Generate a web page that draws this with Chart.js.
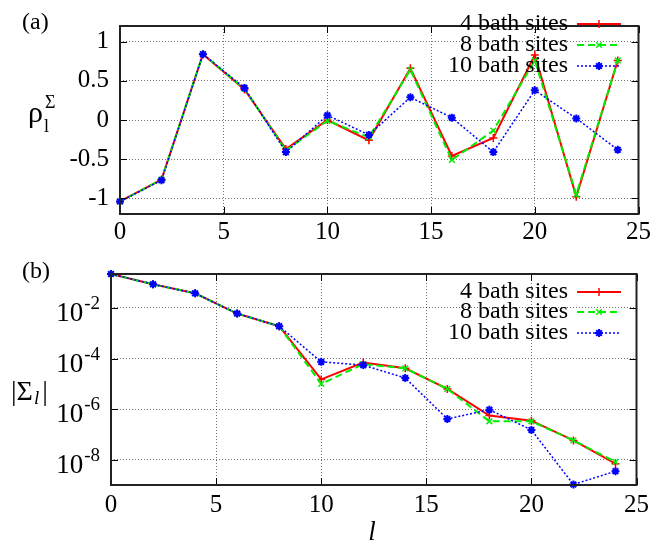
<!DOCTYPE html>
<html>
<head>
<meta charset="utf-8">
<script src="https://cdn.jsdelivr.net/npm/chart.js@4/dist/chart.umd.min.js"></script>
<style>
body { margin: 0; background: #fff; }
#wrap { position: relative; width: 654px; height: 544px; }
canvas { position: absolute; left: 0; }
#top { top: 0; }
#bottom { top: 245px; }
</style>
</head>
<body>
<div id="wrap">
<canvas id="top" width="654" height="245"></canvas>
<canvas id="bottom" width="654" height="299"></canvas>
</div>
<script>
// data
let sites = [0, 2, 4, 6, 8, 10, 12, 14, 16, 18, 20, 22, 24];
let seriesNames = ['4 bath sites', '8 bath sites', '10 bath sites'];

let rho4 = [-1.04, -0.76, 0.84, 0.39, -0.37, 0.0, -0.26, 0.66, -0.46, -0.23, 0.83, -0.98, 0.76];
let rho8 = [-1.04, -0.76, 0.84, 0.40, -0.39, -0.01, -0.22, 0.64, -0.51, -0.135, 0.76, -0.95, 0.76];
let rho10 = [-1.04, -0.77, 0.84, 0.41, -0.41, 0.06, -0.19, 0.29, 0.03, -0.41, 0.38, 0.02, -0.38];

let sig4 = [0.22, 0.086, 0.038, 0.006, 0.0019, 1.5e-5, 7e-5, 4.1e-5, 6.3e-6, 5.6e-7, 3.5e-7, 5.8e-8, 7e-9];
let sig8 = [0.22, 0.086, 0.038, 0.006, 0.0019, 1.0e-5, 6e-5, 4.1e-5, 6.3e-6, 3.3e-7, 3.3e-7, 5.8e-8, 8.2e-9];
let sig10 = [0.22, 0.086, 0.038, 0.006, 0.0019, 7.4e-5, 5.5e-5, 1.7e-5, 4.1e-7, 9.5e-7, 1.5e-7, 1.05e-9, 3.5e-9];

let xTicks = [0, 5, 10, 15, 20, 25];
let rhoTicks = [-1, -0.5, 0, 0.5, 1];
let sigTicks = [1e-8, 1e-6, 1e-4, 1e-2];
let sigTickLabels = ['-8', '-6', '-4', '-2'];

const SERIF = '"Liberation Serif", "DejaVu Serif", serif';

let styles = [
    { borderColor: '#ff0000', borderWidth: 2, borderDash: [], pointStyle: 'cross', pointBorderWidth: 1.5 },
    { borderColor: '#00ee00', borderWidth: 2, borderDash: [7, 4], pointStyle: 'crossRot', pointBorderWidth: 1.5 },
    { borderColor: '#0000ff', borderWidth: 1.5, borderDash: [2, 2], pointStyle: 'star', pointBorderWidth: 2 }
];

function makeDatasets(values) {
    return values.map((vals, i) => ({
        label: seriesNames[i],
        data: sites.map((x, k) => ({ x: x, y: vals[k] })),
        borderColor: styles[i].borderColor,
        backgroundColor: styles[i].borderColor,
        borderWidth: styles[i].borderWidth,
        borderDash: styles[i].borderDash,
        pointStyle: styles[i].pointStyle,
        pointRadius: 4,
        pointBorderWidth: styles[i].pointBorderWidth,
        pointHoverRadius: 4,
        tension: 0,
        clip: false,
        order: 3 - i
    }));
}

// frame, inner ticks, legend and axis texts
function decorPlugin(cfg) {
    return {
        id: 'decor',
        afterDatasetsDraw(chart) {
            let ctx = chart.ctx;
            let a = chart.chartArea;
            let xs = chart.scales.x, ys = chart.scales.y;
            ctx.save();
            ctx.strokeStyle = '#000';
            ctx.lineWidth = 1;
            xTicks.forEach(v => {
                let px = Math.round(xs.getPixelForValue(v)) + 0.5;
                ctx.beginPath();
                ctx.moveTo(px, a.bottom); ctx.lineTo(px, a.bottom - 7);
                ctx.moveTo(px, a.top); ctx.lineTo(px, a.top + 7);
                ctx.stroke();
            });
            cfg.yTicks.forEach(v => {
                let py = Math.round(ys.getPixelForValue(v)) + 0.5;
                ctx.beginPath();
                ctx.moveTo(a.left, py); ctx.lineTo(a.left + 7, py);
                ctx.moveTo(a.right, py); ctx.lineTo(a.right - 7, py);
                ctx.stroke();
            });
            ctx.strokeStyle = '#222';
            ctx.lineWidth = 2;
            ctx.strokeRect(a.left, a.top, a.right - a.left, a.bottom - a.top);

            // legend
            ctx.font = '24px ' + SERIF;
            ctx.textBaseline = 'middle';
            ctx.textAlign = 'right';
            chart.data.datasets.forEach((ds, i) => {
                let y = cfg.legendY[i];
                ctx.fillStyle = '#000';
                ctx.fillText(ds.label, 568, y);
                ctx.strokeStyle = ds.borderColor;
                ctx.lineWidth = ds.borderWidth;
                ctx.setLineDash(ds.borderDash);
                ctx.beginPath();
                ctx.moveTo(577, y); ctx.lineTo(621, y);
                ctx.stroke();
                ctx.setLineDash([]);
                ctx.lineWidth = ds.pointBorderWidth;
                Chart.helpers.drawPoint(ctx, { pointStyle: ds.pointStyle, radius: ds.pointRadius, borderWidth: ds.pointBorderWidth }, 599, y);
            });
            ctx.restore();
        },
        afterDraw(chart) {
            let ctx = chart.ctx;
            ctx.save();
            ctx.fillStyle = '#000';
            ctx.textBaseline = 'alphabetic';
            ctx.textAlign = 'left';
            ctx.font = '24px ' + SERIF;
            ctx.fillText(cfg.panel, 22, cfg.panelY);
            cfg.drawExtra(chart, ctx);
            ctx.restore();
        }
    };
}

function drawRhoLabel(chart, ctx) {
    ctx.font = '30px ' + SERIF;
    ctx.fillText('\u03c1', 28, 122);
    ctx.font = '18px ' + SERIF;
    ctx.fillText('l', 44, 132);
    ctx.fillText('\u03a3', 45, 108);
}

function drawSigmaLabels(chart, ctx) {
    let ys = chart.scales.y;
    // log tick labels 10^-n
    sigTicks.forEach((v, i) => {
        let py = ys.getPixelForValue(v);
        ctx.textAlign = 'right';
        ctx.font = '19px ' + SERIF;
        let w = ctx.measureText(sigTickLabels[i]).width;
        ctx.fillText(sigTickLabels[i], 100, py + 1);
        ctx.font = '27px ' + SERIF;
        ctx.fillText('10', 100 - w - 1, py + 13);
    });
    // y label |Sigma_l|
    ctx.textAlign = 'left';
    ctx.font = '28px ' + SERIF;
    ctx.fillText('|\u03a3', 11, 155);
    let w1 = ctx.measureText('|\u03a3').width;
    ctx.font = 'italic 19px ' + SERIF;
    ctx.fillText('l', 11 + w1 + 1, 159);
    let w2 = ctx.measureText('l').width;
    ctx.font = '28px ' + SERIF;
    ctx.fillText('|', 11 + w1 + w2 + 4, 155);
    // x label
    ctx.font = 'italic 27px ' + SERIF;
    ctx.textAlign = 'center';
    ctx.fillText('l', 372, 295);
}

function gridOpts() {
    return { color: 'rgba(0,0,0,0.55)', lineWidth: 1, drawTicks: false };
}

let tickFont = { family: SERIF, size: 25 };

let topChart = new Chart(document.getElementById('top').getContext('2d'), {
    type: 'line',
    data: { datasets: makeDatasets([rho4, rho8, rho10]) },
    options: {
        responsive: false,
        animation: false,
        layout: { padding: { top: 7, right: 15, left: 0, bottom: 0 } },
        plugins: { legend: { display: false }, tooltip: { enabled: false } },
        scales: {
            x: {
                type: 'linear', min: 0, max: 25,
                afterBuildTicks: s => { s.ticks = xTicks.map(v => ({ value: v })); },
                afterFit: s => { s.height = 31; },
                ticks: { font: tickFont, color: '#000', padding: 3, maxRotation: 0 },
                grid: gridOpts(),
                border: { display: false, dash: [1, 2] }
            },
            y: {
                min: -1.2, max: 1.2,
                afterBuildTicks: s => { s.ticks = rhoTicks.map(v => ({ value: v })); },
                afterFit: s => { s.width = 120; },
                ticks: { font: tickFont, color: '#000', padding: 11, callback: v => String(v) },
                grid: gridOpts(),
                border: { display: false, dash: [1, 2] }
            }
        }
    },
    plugins: [decorPlugin({ panel: '(a)', panelY: 29, yTicks: rhoTicks, legendY: [24, 45, 66], drawExtra: drawRhoLabel })]
});

let bottomChart = new Chart(document.getElementById('bottom').getContext('2d'), {
    type: 'line',
    data: { datasets: makeDatasets([sig4, sig8, sig10]) },
    options: {
        responsive: false,
        animation: false,
        layout: { padding: { top: 29, right: 15, left: 0, bottom: 0 } },
        plugins: { legend: { display: false }, tooltip: { enabled: false } },
        scales: {
            x: {
                type: 'linear', min: 0, max: 25,
                afterBuildTicks: s => { s.ticks = xTicks.map(v => ({ value: v })); },
                afterFit: s => { s.height = 59; },
                ticks: { font: tickFont, color: '#000', padding: 5, maxRotation: 0 },
                grid: gridOpts(),
                border: { display: false, dash: [1, 2] }
            },
            y: {
                type: 'logarithmic', min: 1e-9, max: 0.22,
                afterBuildTicks: s => { s.ticks = sigTicks.map(v => ({ value: v })); },
                afterFit: s => { s.width = 111; },
                ticks: { display: false },
                grid: gridOpts(),
                border: { display: false, dash: [1, 2] }
            }
        }
    },
    plugins: [decorPlugin({ panel: '(b)', panelY: 33, yTicks: sigTicks, legendY: [47, 67, 88], drawExtra: drawSigmaLabels })]
});
</script>
</body>
</html>
